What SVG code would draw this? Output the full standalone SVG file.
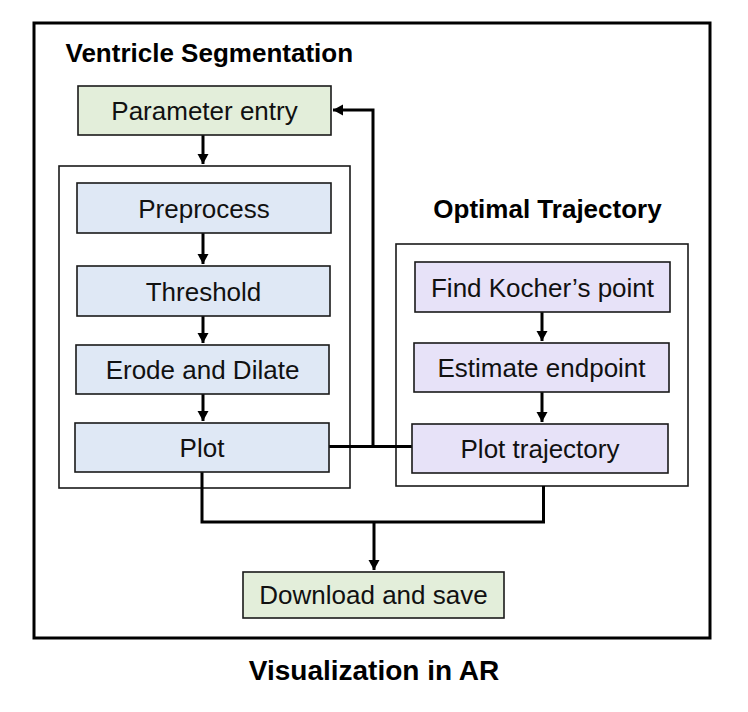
<svg xmlns="http://www.w3.org/2000/svg" width="748" height="712" viewBox="0 0 748 712">
<style>
.bg{fill:#ffffff}
.outer{fill:#ffffff;stroke:#000000;stroke-width:3}
.cont{fill:#ffffff;stroke:#1a1a1a;stroke-width:1.6}
.node{stroke:#1a1a1a;stroke-width:1.6}
.green{fill:#e3eeda}
.blue{fill:#dfe8f5}
.purple{fill:#e7e2f8}
.lbl{font-family:"Liberation Sans",Arial,sans-serif;font-size:26px;fill:#111111;text-anchor:middle}
.title{font-family:"Liberation Sans",Arial,sans-serif;font-size:26px;font-weight:bold;fill:#000000}
.conn{fill:none;stroke:#000000;stroke-width:3;stroke-linejoin:miter}
</style>
<defs>
<marker id="ah" markerUnits="userSpaceOnUse" markerWidth="11" markerHeight="12" refX="10" refY="6" orient="auto">
<path d="M0,0.5 L10,6 L0,11.5 z" fill="#000000"/>
</marker>
</defs>
<rect class="bg" x="0" y="0" width="748" height="712"/>
<g id="outer-frame">
<rect class="outer" x="34" y="23" width="676" height="615"/>
</g>
<g id="title-ventricle">
<text class="title" x="65.5" y="62">Ventricle Segmentation</text>
</g>
<g id="container-seg">
<rect class="cont" x="59" y="166" width="291" height="322"/>
</g>
<g id="title-optimal">
<text class="title" x="547.5" y="218" text-anchor="middle">Optimal Trajectory</text>
</g>
<g id="container-traj">
<rect class="cont" x="396" y="244" width="292" height="242"/>
</g>
<g id="connectors">
<path class="conn" d="M203,135 V164" marker-end="url(#ah)"/>
<path class="conn" d="M203,233 V264" marker-end="url(#ah)"/>
<path class="conn" d="M203,316 V343" marker-end="url(#ah)"/>
<path class="conn" d="M203,394 V421" marker-end="url(#ah)"/>
<path class="conn" d="M542,312 V341" marker-end="url(#ah)"/>
<path class="conn" d="M542,392 V422" marker-end="url(#ah)"/>
<path class="conn" d="M329,446.5 H412"/>
<path class="conn" d="M373,446.5 V110 H333" marker-end="url(#ah)"/>
<path class="conn" d="M202,472 V522 H543.5 V486"/>
<path class="conn" d="M374,522 V570" marker-end="url(#ah)"/>
</g>
<g id="node-parameter-entry">
<rect class="node green" x="78" y="86" width="253" height="49"/>
<text class="lbl" x="204.5" y="120">Parameter entry</text>
</g>
<g id="node-preprocess">
<rect class="node blue" x="77" y="183" width="254" height="50"/>
<text class="lbl" x="204" y="217.5">Preprocess</text>
</g>
<g id="node-threshold">
<rect class="node blue" x="77" y="266" width="253" height="50"/>
<text class="lbl" x="203.5" y="300.5">Threshold</text>
</g>
<g id="node-erode-dilate">
<rect class="node blue" x="76" y="345" width="253" height="49"/>
<text class="lbl" x="202.5" y="379">Erode and Dilate</text>
</g>
<g id="node-plot">
<rect class="node blue" x="75" y="423" width="254" height="49"/>
<text class="lbl" x="202" y="457">Plot</text>
</g>
<g id="node-kocher">
<rect class="node purple" x="415" y="262" width="255" height="50"/>
<text class="lbl" x="542.5" y="296.5">Find Kocher’s point</text>
</g>
<g id="node-estimate">
<rect class="node purple" x="414" y="343" width="255" height="49"/>
<text class="lbl" x="541.5" y="377">Estimate endpoint</text>
</g>
<g id="node-plot-trajectory">
<rect class="node purple" x="412" y="424" width="256" height="49"/>
<text class="lbl" x="540" y="458">Plot trajectory</text>
</g>
<g id="node-download">
<rect class="node green" x="243" y="572" width="261" height="46"/>
<text class="lbl" x="373.5" y="604">Download and save</text>
</g>
<g id="caption">
<text class="title" x="374" y="680" text-anchor="middle" style="font-size:28px">Visualization in AR</text>
</g>
</svg>
